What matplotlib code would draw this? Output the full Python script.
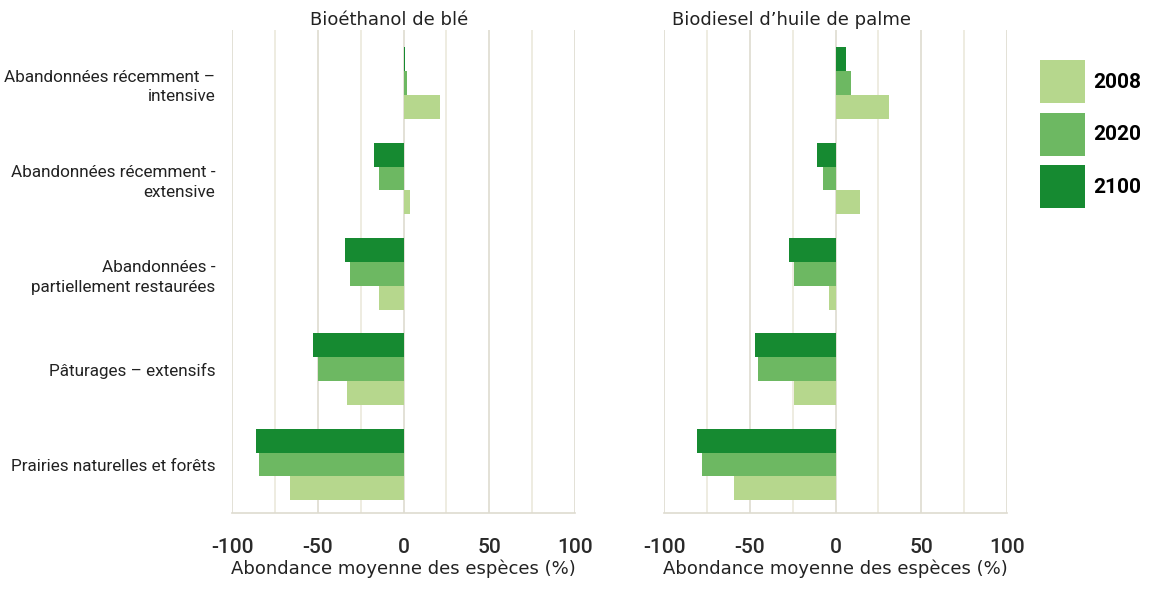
import matplotlib
matplotlib.use("Agg")
import matplotlib.pyplot as plt
import numpy as np

# Data
categories = [
    "Abandonnées récemment –\nintensive",
    "Abandonnées récemment -\nextensive",
    "Abandonnées -\npartiellement restaurées",
    "Pâturages – extensifs",
    "Prairies naturelles et forêts",
]
years = ["2008", "2020", "2100"]
colors = ["#b6d78d", "#6db862", "#168a31"]

wheat_2008 = [21, 4, -14, -33, -66]
wheat_2020 = [2, -14, -31, -50, -84]
wheat_2100 = [1, -17, -34, -53, -86]

palm_2008 = [31, 14, -4, -24, -59]
palm_2020 = [9, -7, -24, -45, -78]
palm_2100 = [6, -11, -27, -47, -81]

panels = [
    ("Bioéthanol de blé", [wheat_2008, wheat_2020, wheat_2100], 0.458),
    ("Biodiesel d’huile de palme", [palm_2008, palm_2020, palm_2100], 0.373),
]

narrow = ["Roboto", "DejaVu Sans"]
grid_col = "#dedbd0"

fig = plt.figure(figsize=(11.52, 5.89), dpi=100)
lefts = [232 / 1152, 664 / 1152]
y = np.arange(len(categories))
h = 0.25
offsets = [0.25, 0.0, -0.25]  # 2008 bottom, 2100 top (axis inverted)

for i, (title, series, tx) in enumerate(panels):
    ax = fig.add_axes([lefts[i], 0.129, 343 / 1152, 0.82])
    for vals, off, col, yr in zip(series, offsets, colors, years):
        ax.barh(y + off, vals, height=h, color=col, label=yr, zorder=2)
    ax.set_xlim(-100, 100)
    ax.set_ylim(4.508, -0.556)
    ax.set_xticks([-100, -50, 0, 50, 100])
    ax.set_xticks(np.arange(-75, 100, 50), minor=True)
    ax.grid(axis="x", which="major", color=grid_col, linewidth=1.2, zorder=0)
    ax.grid(axis="x", which="minor", color="#ebe9dc", linewidth=1.2, zorder=0)
    ax.set_xticklabels(["-100", "-50", "0", "50", "100"], family=narrow,
                       fontsize=15, color="#2a2a2a", fontweight="medium")
    ax.tick_params(axis="x", which="both", length=0, pad=18)
    for s in ["top", "right", "left"]:
        ax.spines[s].set_visible(False)
    ax.spines["bottom"].set_color(grid_col)
    ax.spines["bottom"].set_linewidth(1.2)
    ax.set_xlabel("Abondance moyenne des espèces (%)", fontsize=13,
                  color="#222222", labelpad=2)
    ax.text(tx, 1.02, title, transform=ax.transAxes, ha="center",
            va="center", fontsize=13, color="#222222")
    ax.set_yticks(y)
    if i == 0:
        ax.set_yticklabels(categories, family=narrow, fontsize=12.3,
                           color="#222222", linespacing=1.4)
        ax.tick_params(axis="y", length=0, pad=12)
        handles, labels = ax.get_legend_handles_labels()
    else:
        ax.set_yticklabels([])
        ax.tick_params(axis="y", length=0)

fig.legend(handles, labels, loc="upper left",
           bbox_to_anchor=(1040 / 1152, 1 - 60 / 589),
           frameon=False, borderpad=0, borderaxespad=0,
           handlelength=2.16, handleheight=2.8, labelspacing=0.46,
           handletextpad=0.4, prop={"family": narrow, "size": 15, "weight": "bold"})

fig.savefig("out.png", dpi=100)
